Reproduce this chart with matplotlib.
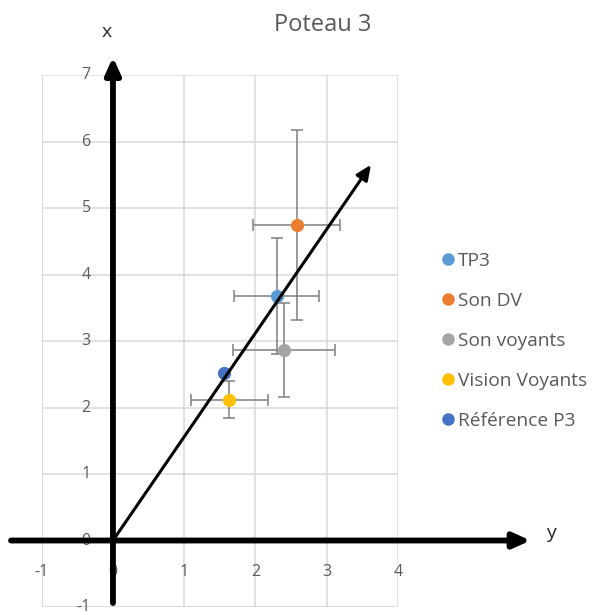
import matplotlib
matplotlib.use("Agg")
import matplotlib.pyplot as plt
from matplotlib.lines import Line2D
from matplotlib.transforms import ScaledTranslation

plt.rcParams['font.family'] = ['Open Sans', 'DejaVu Sans']

# Data
series = ["TP3", "Son DV", "Son voyants", "Vision Voyants", "Référence P3"]
y_vals = [2.30, 2.58, 2.40, 1.63, 1.56]      # horizontal axis (y)
x_vals = [3.68, 4.75, 2.865, 2.12, 2.52]     # vertical axis (x)
y_err = [0.595, 0.61, 0.72, 0.54, 0.0]
x_err = [0.87, 1.43, 0.70, 0.275, 0.0]
colors = ["#5B9BD5", "#ED7D31", "#A5A5A5", "#FFC000", "#4472C4"]
xticks = [-1, 0, 1, 2, 3, 4]
yticks = [-1, 0, 1, 2, 3, 4, 5, 6, 7]
trend_end = (3.62, 5.65)

fig = plt.figure(figsize=(5.93, 6.15), dpi=100)
ax = fig.add_axes([0.0703, 0.0130, 0.6009, 0.8650])
ax.set_xlim(-1, 4)
ax.set_ylim(-1, 7)
ax.set_xticks(xticks)
ax.set_yticks(yticks)
ax.set_xticklabels([str(t) for t in xticks])
ax.set_yticklabels([str(t) for t in yticks])
ax.grid(True, color="#D9D9D9", linewidth=1.1)
ax.set_axisbelow(True)
for s in ax.spines.values():
    s.set_visible(False)
ax.spines['left'].set_position(('data', 0))
ax.spines['bottom'].set_position(('data', 0))
ax.tick_params(axis='both', length=0, labelcolor="#595959", labelsize=11.5)
ax.tick_params(axis='y', pad=16)
ax.tick_params(axis='x', pad=17)
for lbl in ax.get_yticklabels():
    lbl.set_transform(lbl.get_transform() + ScaledTranslation(0, 2 / 100, fig.dpi_scale_trans))

# Bottom/left plot-area border lines
ax.axhline(-1, color="#D9D9D9", lw=1.1, zorder=0)
ax.axvline(-1, color="#D9D9D9", lw=1.1, zorder=0)

# Error bars and points
handles = []
for yv, xv, ye, xe, c, lab in zip(y_vals, x_vals, y_err, x_err, colors, series):
    if ye > 0 or xe > 0:
        ax.errorbar(yv, xv, xerr=ye, yerr=xe, fmt='none', ecolor="#7F7F7F",
                    elinewidth=1.1, capsize=4, capthick=1.1, zorder=3)
    ax.plot(yv, xv, 'o', color=c, markersize=8.5, zorder=4)
    handles.append(Line2D([], [], marker='o', linestyle='none', color=c,
                          markersize=8, label=lab))

# Arrows
ax.annotate("", xy=(5.86, 0), xytext=(-1.43, 0), annotation_clip=False,
            arrowprops=dict(arrowstyle="-|>,head_length=1.0,head_width=0.45",
                            lw=4.2, color="black", shrinkA=0, shrinkB=0), zorder=6)
ax.annotate("", xy=(0, 7.27), xytext=(0, -0.94), annotation_clip=False,
            arrowprops=dict(arrowstyle="-|>,head_length=1.0,head_width=0.45",
                            lw=4.2, color="black", shrinkA=0, shrinkB=0), zorder=6)
ax.annotate("", xy=trend_end, xytext=(0, 0), annotation_clip=False,
            arrowprops=dict(arrowstyle="-|>,head_length=0.9,head_width=0.4",
                            lw=2.2, color="black", shrinkA=0, shrinkB=0), zorder=5)

# Axis letters
fig.text(107 / 593, 1 - 32 / 615, "x", fontsize=14, color="#262626", ha="center", va="center")
fig.text(551 / 593, 1 - 533 / 615, "y", fontsize=14, color="#262626", ha="center", va="center")

# Title
fig.text(323 / 593, 1 - 25 / 615, "Poteau 3", fontsize=17, color="#595959",
         ha="center", va="center")

# Legend
leg = fig.legend(handles=handles, loc="upper left", bbox_to_anchor=(435 / 593, 1 - 244 / 615),
                 frameon=False, fontsize=13.8, labelspacing=1.15, handlelength=0.55,
                 handletextpad=0.25, borderaxespad=0)
for t in leg.get_texts():
    t.set_color("#595959")

fig.savefig("out.png", dpi=100)
